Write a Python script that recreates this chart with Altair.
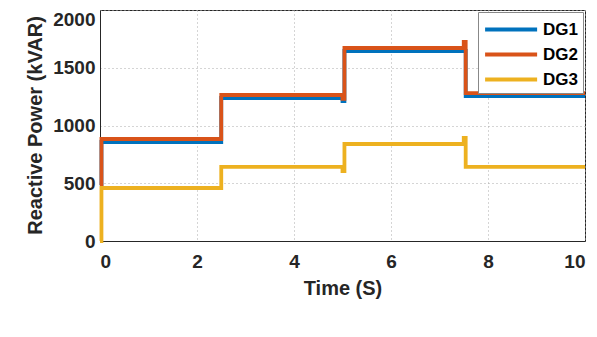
import altair as alt
import pandas as pd

time = [0.0, 0.03, 2.5, 5.0, 5.04, 7.5, 7.54, 10.0]
dg1 = [480, 857, 1238, 1212, 1645, 1645, 1255, 1255]
dg2 = [485, 883, 1264, 1230, 1671, 1723, 1281, 1281]
dg3 = [0, 459, 641, 606, 840, 892, 641, 641]
series = ["DG1", "DG2", "DG3"]
colors = ["#0072BD", "#D95319", "#EDB120"]
x_ticks = [0, 2, 4, 6, 8, 10]
y_ticks = [0, 500, 1000, 1500, 2000]

rows = []
for name, vals in zip(series, [dg1, dg2, dg3]):
    for t, v in zip(time, vals):
        rows.append({"t": t, "v": v, "s": name})
df = pd.DataFrame(rows)

FONT = "Liberation Sans"

chart = alt.Chart(df).mark_line(interpolate="step-after", strokeWidth=3.8).encode(
    x=alt.X("t:Q", scale=alt.Scale(domain=[0, 10], nice=False),
            axis=alt.Axis(values=x_ticks, title="Time (S)", labelPadding=11,
                          titlePadding=7, format="d")),
    y=alt.Y("v:Q", scale=alt.Scale(domain=[0, 2000], nice=False),
            axis=alt.Axis(values=y_ticks, title="Reactive Power (kVAR)", labelPadding=5,
                          format="d",
                          labelBaseline={"condition": {"test": "datum.value == 2000",
                                                       "value": "top"},
                                         "value": "middle"},
                          titleX=-65, titleY=115, titleAngle=270, titleBaseline="middle",
                          titleAlign="center")),
    color=alt.Color("s:N", scale=alt.Scale(domain=series, range=colors),
                    legend=alt.Legend(title=None, orient="none", legendX=378, legendY=2,
                                      fillColor="white", strokeColor="#888888",
                                      padding=5, symbolType="M-1,0H4", symbolSize=433,
                                      symbolStrokeWidth=4, labelFontSize=17,
                                      labelFontWeight="bold", labelColor="black",
                                      labelFont=FONT, rowPadding=4, labelOffset=35)),
).properties(
    width=485, height=231,
    autosize=alt.AutoSizeParams(type="none"),
    padding={"left": 92, "top": 2, "right": 4, "bottom": 88},
).configure_axis(
    labelFont=FONT, labelFontSize=19, labelFontWeight="bold", labelColor="#262626",
    titleFont=FONT, titleFontSize=20, titleFontWeight="bold", titleColor="#262626",
    domainColor="#262626", ticks=False, grid=True, gridDash=[1, 3],
    gridColor="#aaaaaa", gridWidth=1,
).configure_legend(strokeWidth=1).configure_view(stroke="#262626", strokeWidth=1)

chart.save("out.html", embed_options={"renderer": "svg", "actions": False})
